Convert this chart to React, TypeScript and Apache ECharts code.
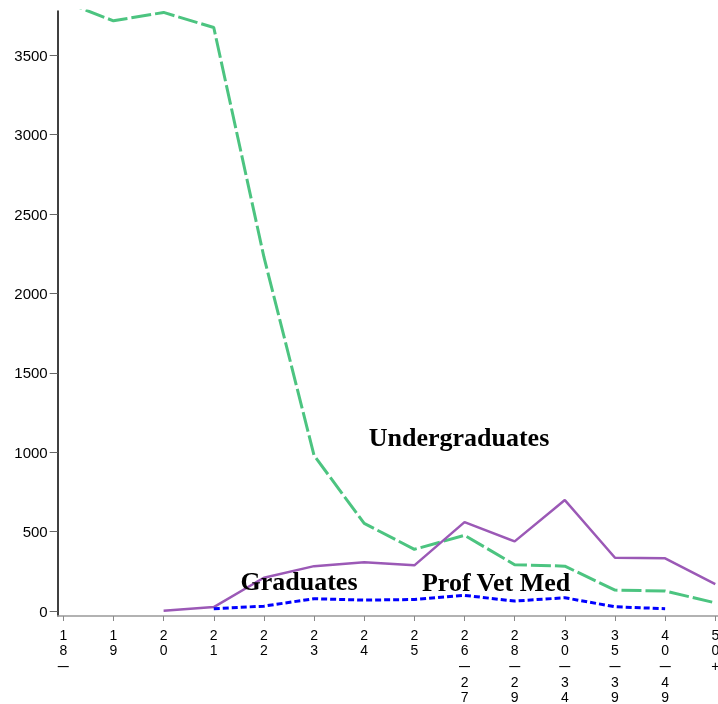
import React, { useEffect, useRef } from "react";
import * as echarts from "echarts";

const categories = ["18–", "19", "20", "21", "22", "23", "24", "25", "26–27", "28–29", "30–34", "35–39", "40–49", "50+"];
const undergraduates = [3840, 3717, 3770, 3675, 2230, 980, 552, 389, 477, 292, 283, 132, 126, 52];
const graduates = [null, null, 2, 25, 210, 283, 308, 288, 560, 439, 699, 336, 332, 170];
const profVetMed = [null, null, null, 15, 31, 78, 69, 73, 99, 63, 84, 27, 15, null];
const yTicks = [0, 500, 1000, 1500, 2000, 2500, 3000, 3500];
const seriesNames = ["Undergraduates", "Graduates", "Prof Vet Med"];
// label anchors in data space [x index, value]
const labelAnchors: [number, number][] = [[7.89, 1096], [4.7, 189], [8.63, 183]];

const toPairs = (arr: (number | null)[]) => arr.map((v, i) => [i, v]);

export default function App() {
  const ref = useRef<HTMLDivElement>(null);
  useEffect(() => {
    if (!ref.current) return;
    const chart = echarts.init(ref.current, null, { renderer: "svg" });
    const xIdx = categories.map((_, i) => i);
    const labelStyle = {
      show: true,
      position: "inside",
      fontFamily: "Liberation Serif, Times New Roman, serif",
      fontWeight: "bold",
      fontSize: 26,
      color: "#000",
    };
    const mk = (i: number) => ({
      symbol: "circle",
      symbolSize: 0,
      silent: true,
      data: [{ coord: labelAnchors[i], label: { ...labelStyle, formatter: seriesNames[i] } }],
    });
    const font = "Liberation Sans, Arial, sans-serif";
    chart.setOption({
      animation: false,
      grid: { left: 57.7, right: 0, top: 11, bottom: 88, outerBoundsMode: "none", containLabel: false },
      xAxis: {
        type: "value",
        min: -0.1117,
        max: 13.054,
        splitLine: { show: false },
        axisLine: { show: true, onZero: false, lineStyle: { color: "#999", width: 1.5 } },
        axisTick: { show: true, customValues: xIdx, length: 5, lineStyle: { color: "#888", width: 1 } },
        axisLabel: {
          customValues: xIdx,
          formatter: (v: number) =>
            (categories[Math.round(v)] || "")
              .split("")
              .map((c) => (c === "–" ? "{d|—}" : c))
              .join("\n"),
          margin: 11,
          fontSize: 14,
          lineHeight: 15.6,
          color: "#000",
          fontFamily: font,
          verticalAlign: "top",
          showMinLabel: true,
          showMaxLabel: true,
          hideOverlap: false,
          rich: { d: { fontSize: 11, fontWeight: "bold", lineHeight: 15.6, color: "#000", fontFamily: font } },
        },
      },
      yAxis: {
        type: "value",
        min: -31,
        max: 3779,
        splitLine: { show: false },
        axisLine: { show: true, onZero: false, lineStyle: { color: "#000", width: 1.5 } },
        axisTick: { show: true, customValues: yTicks, length: 8, lineStyle: { color: "#666", width: 1 } },
        axisLabel: {
          customValues: yTicks,
          formatter: (v: number) => String(v),
          margin: 10,
          fontSize: 15,
          color: "#000",
          fontFamily: font,
        },
      },
      series: [
        {
          name: seriesNames[0],
          type: "line",
          data: toPairs(undergraduates),
          showSymbol: false,
          clip: true,
          lineStyle: { color: "#4cc480", width: 3, type: [20, 4] },
          markPoint: mk(0),
          z: 2,
        },
        {
          name: seriesNames[1],
          type: "line",
          data: toPairs(graduates),
          showSymbol: false,
          clip: true,
          lineStyle: { color: "#9b59b6", width: 2.5 },
          markPoint: mk(1),
          z: 3,
        },
        {
          name: seriesNames[2],
          type: "line",
          data: toPairs(profVetMed),
          showSymbol: false,
          clip: true,
          lineStyle: { color: "#0000ff", width: 3, type: [6, 3] },
          markPoint: mk(2),
          z: 4,
        },
      ],
    });
    return () => chart.dispose();
  }, []);
  return <div ref={ref} style={{ position: "fixed", left: 0, top: 0, width: 718, height: 704 }} />;
}
